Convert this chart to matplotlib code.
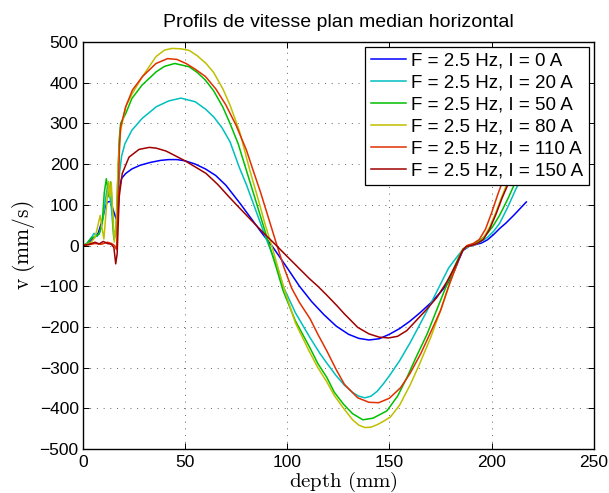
import numpy as np
import matplotlib
matplotlib.use("Agg")
import matplotlib.pyplot as plt

# --- Data (depth in mm, velocity in mm/s) ---
labels = ["F = 2.5 Hz, I = 0 A", "F = 2.5 Hz, I = 20 A", "F = 2.5 Hz, I = 50 A",
          "F = 2.5 Hz, I = 80 A", "F = 2.5 Hz, I = 110 A", "F = 2.5 Hz, I = 150 A"]

x_0A = [0, 2, 4, 6, 7.5, 9.5, 11, 12, 13.5, 15, 16, 17, 17.8, 19, 21, 24, 28, 33, 38, 42, 46,
        50, 55, 60, 65, 70, 77, 83, 88, 93, 100, 106, 112, 118, 124, 130, 135, 140, 145, 150,
        155, 160, 165, 170, 175, 179, 182, 184, 186, 189, 192, 195, 198, 201, 204, 207, 211,
        214, 217]
v_0A = [0, 3, 12, 22, 30, 62, 95, 107, 108, 85, 70, 60, 140, 165, 177, 188, 197, 204, 209,
        211, 211, 208, 200, 188, 172, 148, 103, 62, 28, -4, -55, -100, -138, -170, -198, -218,
        -228, -232, -229, -218, -204, -186, -165, -142, -115, -90, -60, -35, -12, -2, 2, 6, 14,
        27, 42, 55, 75, 91, 107]

x_20A = [0, 2, 4, 5.5, 7, 8.5, 10, 11, 12, 13, 14, 15.2, 16.5, 17.3, 18, 19, 20.6, 24, 29, 36,
         42, 48, 55, 60, 64, 68, 72, 76.7, 80, 84, 88, 91, 95, 98, 104, 111, 116, 120, 124, 128,
         132, 135, 138, 141, 144, 147, 150, 155, 160, 165, 170, 175, 179, 182, 184, 186, 189,
         192, 195, 198, 201, 204, 208, 212, 216]
v_20A = [0, 5, 18, 30, 22, 35, 70, 110, 144, 130, 90, 15, 30, 120, 180, 220, 250, 283, 312,
         341, 355, 362, 353, 335, 316, 290, 255, 190, 150, 95, 40, 0, -50, -100, -165, -225,
         -265, -293, -320, -343, -361, -370, -374, -370, -358, -340, -320, -283, -240, -193,
         -145, -95, -55, -35, -22, -10, -2, 3, 10, 20, 35, 55, 95, 140, 180]

x_50A = [0, 2, 4, 6, 8, 9.5, 10.5, 11.5, 12.8, 13.6, 14.5, 15.2, 16.2, 17, 17.8, 18.5, 21, 24,
         29, 36, 40, 45, 52, 56, 60, 64, 68.5, 72, 76, 80, 84, 88, 91.3, 95, 98, 104, 111, 115,
         119.4, 123, 127.6, 132, 137, 142, 148.8, 154, 158.6, 163, 168.4, 173, 177, 181, 184,
         186, 189, 192, 195, 198, 201, 204, 208, 212, 216]
v_50A = [0, 5, 18, 22, 28, 55, 130, 164, 119, 156, 90, 16, 40, 150, 260, 300, 324, 361, 394,
         427, 440, 447, 439, 425, 406, 380, 340, 300, 250, 185, 120, 54, 0, -60, -111, -185,
         -250, -290, -324, -360, -390, -413, -428, -424, -406, -370, -324, -275, -218, -160,
         -110, -62, -28, -8, 0, 5, 15, 30, 50, 75, 115, 160, 205]

x_80A = [0, 2, 4, 6, 7.2, 8.5, 9.5, 10.3, 11.5, 12.6, 13.2, 13.9, 14.6, 15.4, 16.5, 17.3, 18.5,
         21, 24.3, 29.2, 35.8, 40, 43.6, 48, 52.1, 56, 60.3, 64, 68.5, 72, 76.7, 81.7, 86, 89,
         92.4, 95.5, 98.8, 104, 111, 115, 119.4, 123, 127.6, 132, 135, 138, 141, 144, 147,
         150.5, 155, 160.3, 165, 170.2, 175, 180, 183, 185, 187, 190, 193, 196, 199, 202, 205,
         209, 213, 216]
v_80A = [0, 3, 8, 20, 45, 74, 40, 16, 90, 157, 120, 155, 80, 8, 60, 200, 283, 341, 374, 415,
         464, 480, 484, 483, 479, 466, 447, 425, 385, 345, 280, 185, 110, 55, 0, -55, -111,
         -190, -262, -300, -335, -368, -400, -428, -441, -447, -446, -440, -432, -421, -392,
         -341, -288, -226, -160, -86, -45, -18, -5, 0, 5, 18, 45, 80, 120, 170, 220, 260]

x_110A = [0, 3, 6, 9, 12, 14, 15.5, 16.5, 17.2, 18, 18.5, 21, 24.3, 29.2, 35.8, 41.5, 46, 50.5,
          55, 60, 65, 70, 75, 80, 83.3, 87, 91, 95, 98.5, 102.2, 106, 111.2, 115, 119.4, 124,
          128, 134.5, 140, 144.8, 150, 155.5, 160, 165.3, 170, 175, 179, 182, 184, 186, 188, 191,
          194, 197, 200, 203, 207, 211, 216]
v_110A = [0, 2, 5, 3, 8, 5, 0, -10, 100, 250, 291, 341, 382, 415, 447, 459, 457, 447, 433, 415,
          385, 345, 295, 235, 185, 130, 65, 0, -55, -105, -140, -180, -218, -259, -305, -341,
          -374, -385, -386, -375, -349, -315, -266, -215, -160, -100, -60, -32, -10, 0, 5, 15,
          40, 80, 125, 180, 230, 280]

x_150A = [0, 3, 6, 8, 10, 12, 14, 15.2, 16.1, 16.8, 17.8, 19.3, 22.6, 27.5, 32.5, 36, 40.7, 45,
          50, 55, 60.3, 66, 71.8, 76.7, 83.2, 89, 94.7, 100, 105, 111, 115, 119, 124, 128,
          134.5, 140, 145, 149.6, 154, 158.5, 163, 168, 173.3, 178, 181, 183.5, 185.5, 187.5,
          190, 193, 196, 199, 202, 205, 208, 212, 216]
v_150A = [0, 3, 8, 4, 10, 5, 3, -5, -45, -20, 120, 177, 217, 236, 241, 239, 232, 221, 208, 193,
          177, 150, 118, 92, 58, 28, 0, -27, -52, -82, -100, -120, -146, -168, -201, -217, -225,
          -227, -223, -209, -185, -158, -127, -90, -62, -38, -15, -3, 0, 5, 15, 40, 75, 115,
          150, 195, 240]

series = [(x_0A, v_0A), (x_20A, v_20A), (x_50A, v_50A),
          (x_80A, v_80A), (x_110A, v_110A), (x_150A, v_150A)]
colors = ["#0000ff", "#00bfbf", "#00bf00", "#bfbf00", "#e03000", "#a00000"]

x_ticks = [0, 50, 100, 150, 200, 250]
y_ticks = [-500, -400, -300, -200, -100, 0, 100, 200, 300, 400, 500]

# --- Plot ---
plt.rcParams['font.family'] = ['Liberation Sans', 'DejaVu Sans']
plt.rcParams['mathtext.fontset'] = 'cm'

fig = plt.figure(figsize=(6.09, 4.93), dpi=100)
ax = fig.add_axes([0.136, 0.089, 0.839, 0.826])

for (xs, vs), c, lab in zip(series, colors, labels):
    ax.plot(xs, vs, color=c, lw=1.1, label=lab)

ax.set_xlim(0, 250)
ax.set_ylim(-500, 500)
ax.set_xticks(x_ticks)
ax.set_yticks(y_ticks)
ax.tick_params(direction='in', top=True, right=True, labelsize=12.5, length=4, width=0.7)
ax.tick_params(axis='y', pad=3)
ax.tick_params(axis='x', pad=4)
for s in ax.spines.values():
    s.set_linewidth(1.0)
ax.grid(True, linestyle=(0, (1, 5.9)), color='0.4', lw=0.7)

ax.set_title("Profils de vitesse plan median horizontal", fontsize=14, pad=11)
ax.set_xlabel(r"$\mathrm{depth\ (mm)}$", fontsize=15)
ax.xaxis.label.set_va('baseline')
ax.xaxis.set_label_coords(0.511, -0.093)
ax.set_ylabel(r"$\mathrm{v\ (mm/s)}$", fontsize=15.5, labelpad=2)

leg = ax.legend(loc='upper right', fontsize=13.5, fancybox=False, framealpha=1,
                edgecolor='black', handlelength=1.87, labelspacing=0.26,
                borderaxespad=0.25, handletextpad=0.3, borderpad=0.3)
leg.get_frame().set_linewidth(0.9)

fig.savefig("out.png", dpi=100)
